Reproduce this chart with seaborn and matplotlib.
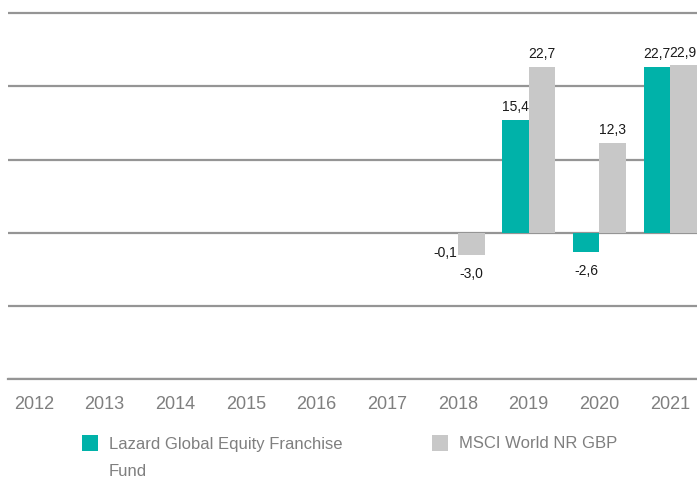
import matplotlib
matplotlib.use('Agg')
import matplotlib.pyplot as plt
from matplotlib.patches import Rectangle
import seaborn as sns
import numpy as np
import pandas as pd

# Data
years = ['2012', '2013', '2014', '2015', '2016', '2017', '2018', '2019', '2020', '2021']
fund_name = 'Lazard Global Equity Franchise Fund'
index_name = 'MSCI World NR GBP'
fund_values = [np.nan, np.nan, np.nan, np.nan, np.nan, np.nan, -0.1, 15.4, -2.6, 22.7]
index_values = [np.nan, np.nan, np.nan, np.nan, np.nan, np.nan, -3.0, 22.7, 12.3, 22.9]
y_grid = [-20, -10, 0, 10, 20, 30]

teal = '#00B2A9'
grey = '#C8C8C8'
line_col = '#959595'
text_grey = '#7f7f7f'

df = pd.DataFrame({
    'year': years * 2,
    'series': [fund_name] * len(years) + [index_name] * len(years),
    'value': fund_values + index_values,
}).dropna()

sns.set_style('white')
plt.rcParams['font.family'] = ['Liberation Sans', 'DejaVu Sans']

fig = plt.figure(figsize=(6.97, 4.78), dpi=100)
ax = fig.add_axes([8 / 697, 99 / 478, 689 / 697, 379 / 478])

sns.barplot(data=df, x='year', y='value', hue='series', order=years,
            hue_order=[fund_name, index_name], palette=[teal, grey],
            width=0.75, saturation=1, errorbar=None, legend=False, ax=ax,
            zorder=2, linewidth=0, edgecolor='none')

ax.set_xlim(-0.368, 9.382)
ax.set_ylim(-20, 31.8)
ax.set_yticks(y_grid)
ax.set_yticklabels([])
ax.grid(axis='y', color=line_col, linewidth=1.6, zorder=1)
ax.grid(axis='x', visible=False)
ax.set_axisbelow(True)
for s in ['top', 'right', 'left']:
    ax.spines[s].set_visible(False)
ax.spines['bottom'].set_color(line_col)
ax.spines['bottom'].set_linewidth(1.6)
ax.tick_params(axis='x', length=0, pad=12, labelsize=13, labelcolor=text_grey)
ax.tick_params(axis='y', length=0)
ax.set_xlabel('')
ax.set_ylabel('')

# value labels, comma decimal
for cont in ax.containers:
    for bar in cont:
        h = bar.get_height()
        if np.isnan(h):
            continue
        x = bar.get_x() + bar.get_width() / 2
        txt = f'{h:.1f}'.replace('.', ',')
        if h >= 0:
            ax.annotate(txt, (x, h), xytext=(0, 4), textcoords='offset points',
                        ha='center', va='bottom', fontsize=10, color='#1a1a1a')
        else:
            ax.annotate(txt, (x, h), xytext=(0, -9), textcoords='offset points',
                        ha='center', va='top', fontsize=10, color='#1a1a1a')

# legend (square aligned with first line of wrapped label)
W, H = 697, 478
def legend_item(x, y_top, color, lines):
    fig.patches.append(Rectangle((x / W, 1 - (y_top + 16) / H), 16 / W, 16 / H,
                                 transform=fig.transFigure, facecolor=color, edgecolor='none'))
    for i, line in enumerate(lines):
        fig.text((x + 27) / W, 1 - (y_top + 9 + i * 27) / H, line, ha='left', va='center',
                 fontsize=12, color=text_grey)

legend_item(82, 435, teal, ['Lazard Global Equity Franchise', 'Fund'])
legend_item(432, 435, grey, [index_name])

fig.savefig('out.png', dpi=100)
